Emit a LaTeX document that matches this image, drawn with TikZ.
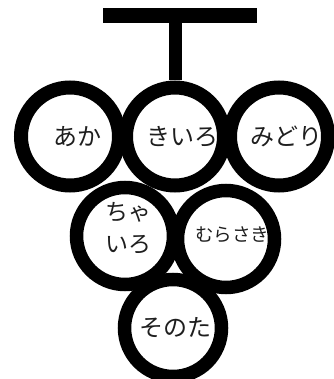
\documentclass[tikz,border=0pt]{standalone}
\usepackage{fontspec}
\newfontfamily\jpfont{Noto Sans CJK JP}
\definecolor{txt}{RGB}{30,30,30}
\begin{document}
\begin{tikzpicture}[x=1pt,y=-1pt,
  grape/.style={circle,draw=black,line width=14pt,minimum size=98pt,inner sep=0pt},
  grapesm/.style={circle,draw=black,line width=13.5pt,minimum size=97pt,inner sep=0pt},
  word/.style={font=\jpfont\fontsize{24}{28}\selectfont,text=txt,inner sep=0pt,align=center},
  smallword/.style={font=\jpfont\fontsize{18.5}{21}\selectfont,text=txt,inner sep=0pt},
  barbox/.style={rectangle,fill=black,minimum width=154pt,minimum height=15pt,inner sep=0pt,outer sep=0pt}]
\useasboundingbox (0,0) rectangle (333,379);
\node[barbox] (bar) at (180,15.5) {};
\node[grape] (aka) at (70,136.5) {};
\node[grape] (kiiro) at (175,136.5) {};
\node[grape] (midori) at (279,136.5) {};
\node[grapesm] (chairo) at (125,236) {};
\node[grapesm] (murasaki) at (226,239) {};
\node[grapesm] (sonota) at (173,328) {};
\draw[line width=13pt] (bar.south -| kiiro.north) -- (kiiro.north);
\node[word] at ([xshift=7]aka.center) {あか};
\node[word] at ([xshift=7]kiiro.center) {きいろ};
\node[word] at ([xshift=7]midori.center) {みどり};
\node[word,font=\jpfont\fontsize{23}{32}\selectfont] at ([xshift=3,yshift=8]chairo.center) {ちゃ\\いろ};
\node[smallword] at ([xshift=6,yshift=4]murasaki.center) {むらさき};
\node[word] at ([xshift=2]sonota.center) {そのた};
\end{tikzpicture}
\end{document}
